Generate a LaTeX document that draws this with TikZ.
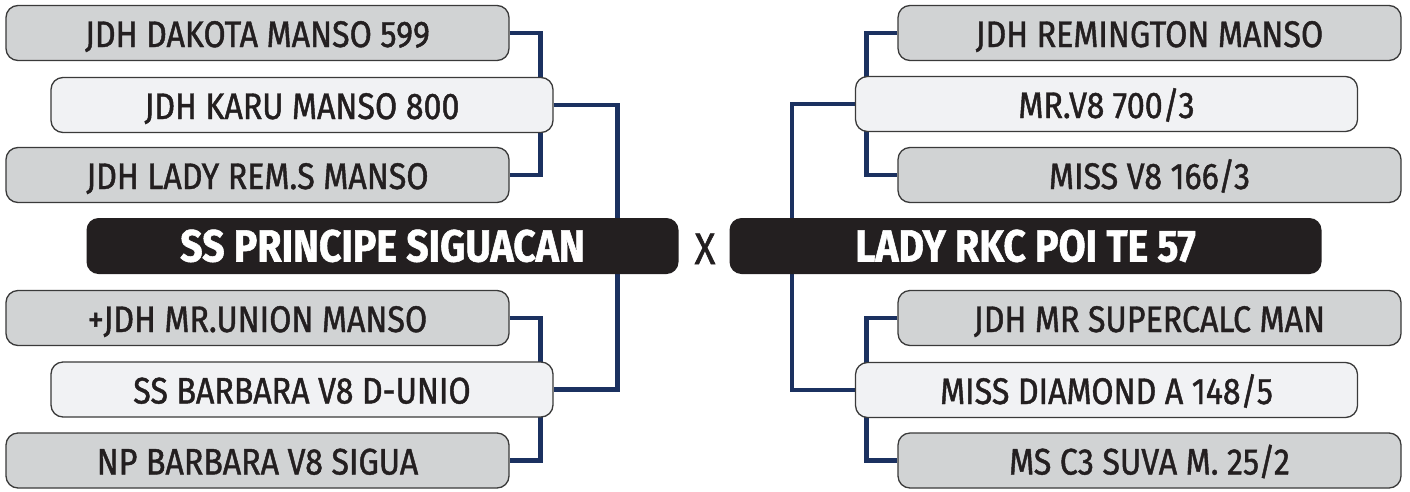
\documentclass[tikz,border=0pt]{standalone}
\usepackage{fontspec}
\setmainfont{Fira Sans}[FakeStretch=0.87, FakeBold=1.2]
\usetikzlibrary{backgrounds}

\definecolor{outergray}{HTML}{D1D3D4}
\definecolor{innergray}{HTML}{F1F2F4}
\definecolor{darkbox}{HTML}{231F20}
\definecolor{boxline}{HTML}{3A3A3A}
\definecolor{linknavy}{HTML}{1B3160}

\tikzset{
  pedigree/.style={draw=boxline, line width=1.3pt, rounded corners=12pt,
    minimum height=55pt, minimum width=503pt, inner sep=0pt,
    text height=28pt, text depth=0pt, text=darkbox,
    font=\fontsize{37}{37}\selectfont},
  outerbox/.style={pedigree, fill=outergray},
  innerbox/.style={pedigree, fill=innergray, minimum width=502pt},
  mainbox/.style={pedigree, draw=none, fill=darkbox, minimum width=592pt,
    minimum height=56pt, text=white, text height=31pt,
    font=\bfseries\fontsize{45}{45}\selectfont},
  link/.style={draw=linknavy, line width=4.6pt}
}

\begin{document}
\begin{tikzpicture}[x=1pt,y=-1pt]
   \useasboundingbox (0,0) rectangle (1410,491);

   \node[outerbox] (dakota)    at (257.5,33)  {JDH DAKOTA MANSO 599};
   \node[innerbox] (karu)      at (302,105)   {JDH KARU MANSO 800};
   \node[outerbox] (ladyrem)   at (257.5,175) {JDH LADY REM.S MANSO};
   \node[outerbox] (union)     at (257.5,318) {+JDH MR.UNION MANSO};
   \node[innerbox] (barbara)   at (302,389.5) {SS BARBARA V8 D-UNIO};
   \node[outerbox] (npbarbara) at (257.5,460.5) {NP BARBARA V8 SIGUA};

   \node[outerbox] (remington)  at (1149.5,33)  {JDH REMINGTON MANSO};
   \node[innerbox] (mrveight)   at (1106.5,104) {MR.V8 700/3};
   \node[outerbox] (missveight) at (1149.5,175) {MISS V8 166/3};
   \node[outerbox] (supercalc)  at (1149.5,318) {JDH MR SUPERCALC MAN};
   \node[innerbox] (diamond)    at (1106.5,390) {MISS DIAMOND A 148/5};
   \node[outerbox] (msctres)    at (1149.5,460.5) {MS C3 SUVA M. 25/2};

   \node[mainbox] (principe) at (382.5,246) {SS PRINCIPE SIGUACAN};
   \node[mainbox] (ladyrkc)  at (1025.5,246) {LADY RKC POI TE 57};
   \node[pedigree, draw=none, fill=none, minimum width=0pt, text height=30pt,
     font=\fontsize{44}{44}\selectfont] (cross) at (705,249) {X};

   \begin{scope}[on background layer]
   \fill[white] (0,0) rectangle (1410,491);
   \draw[link] (dakota.east) -- ++(31,0) |- (ladyrem.east);
   \draw[link] (karu.east) -- ++(64,0) |- (barbara.east);
   \draw[link] (union.east) -- ++(31,0) |- (npbarbara.east);
   \draw[link] (remington.west) -- ++(-31,0) |- (missveight.west);
   \draw[link] (mrveight.west) -- ++(-63,0) |- (diamond.west);
   \draw[link] (supercalc.west) -- ++(-31,0) |- (msctres.west);
   \end{scope}
\end{tikzpicture}
\end{document}
